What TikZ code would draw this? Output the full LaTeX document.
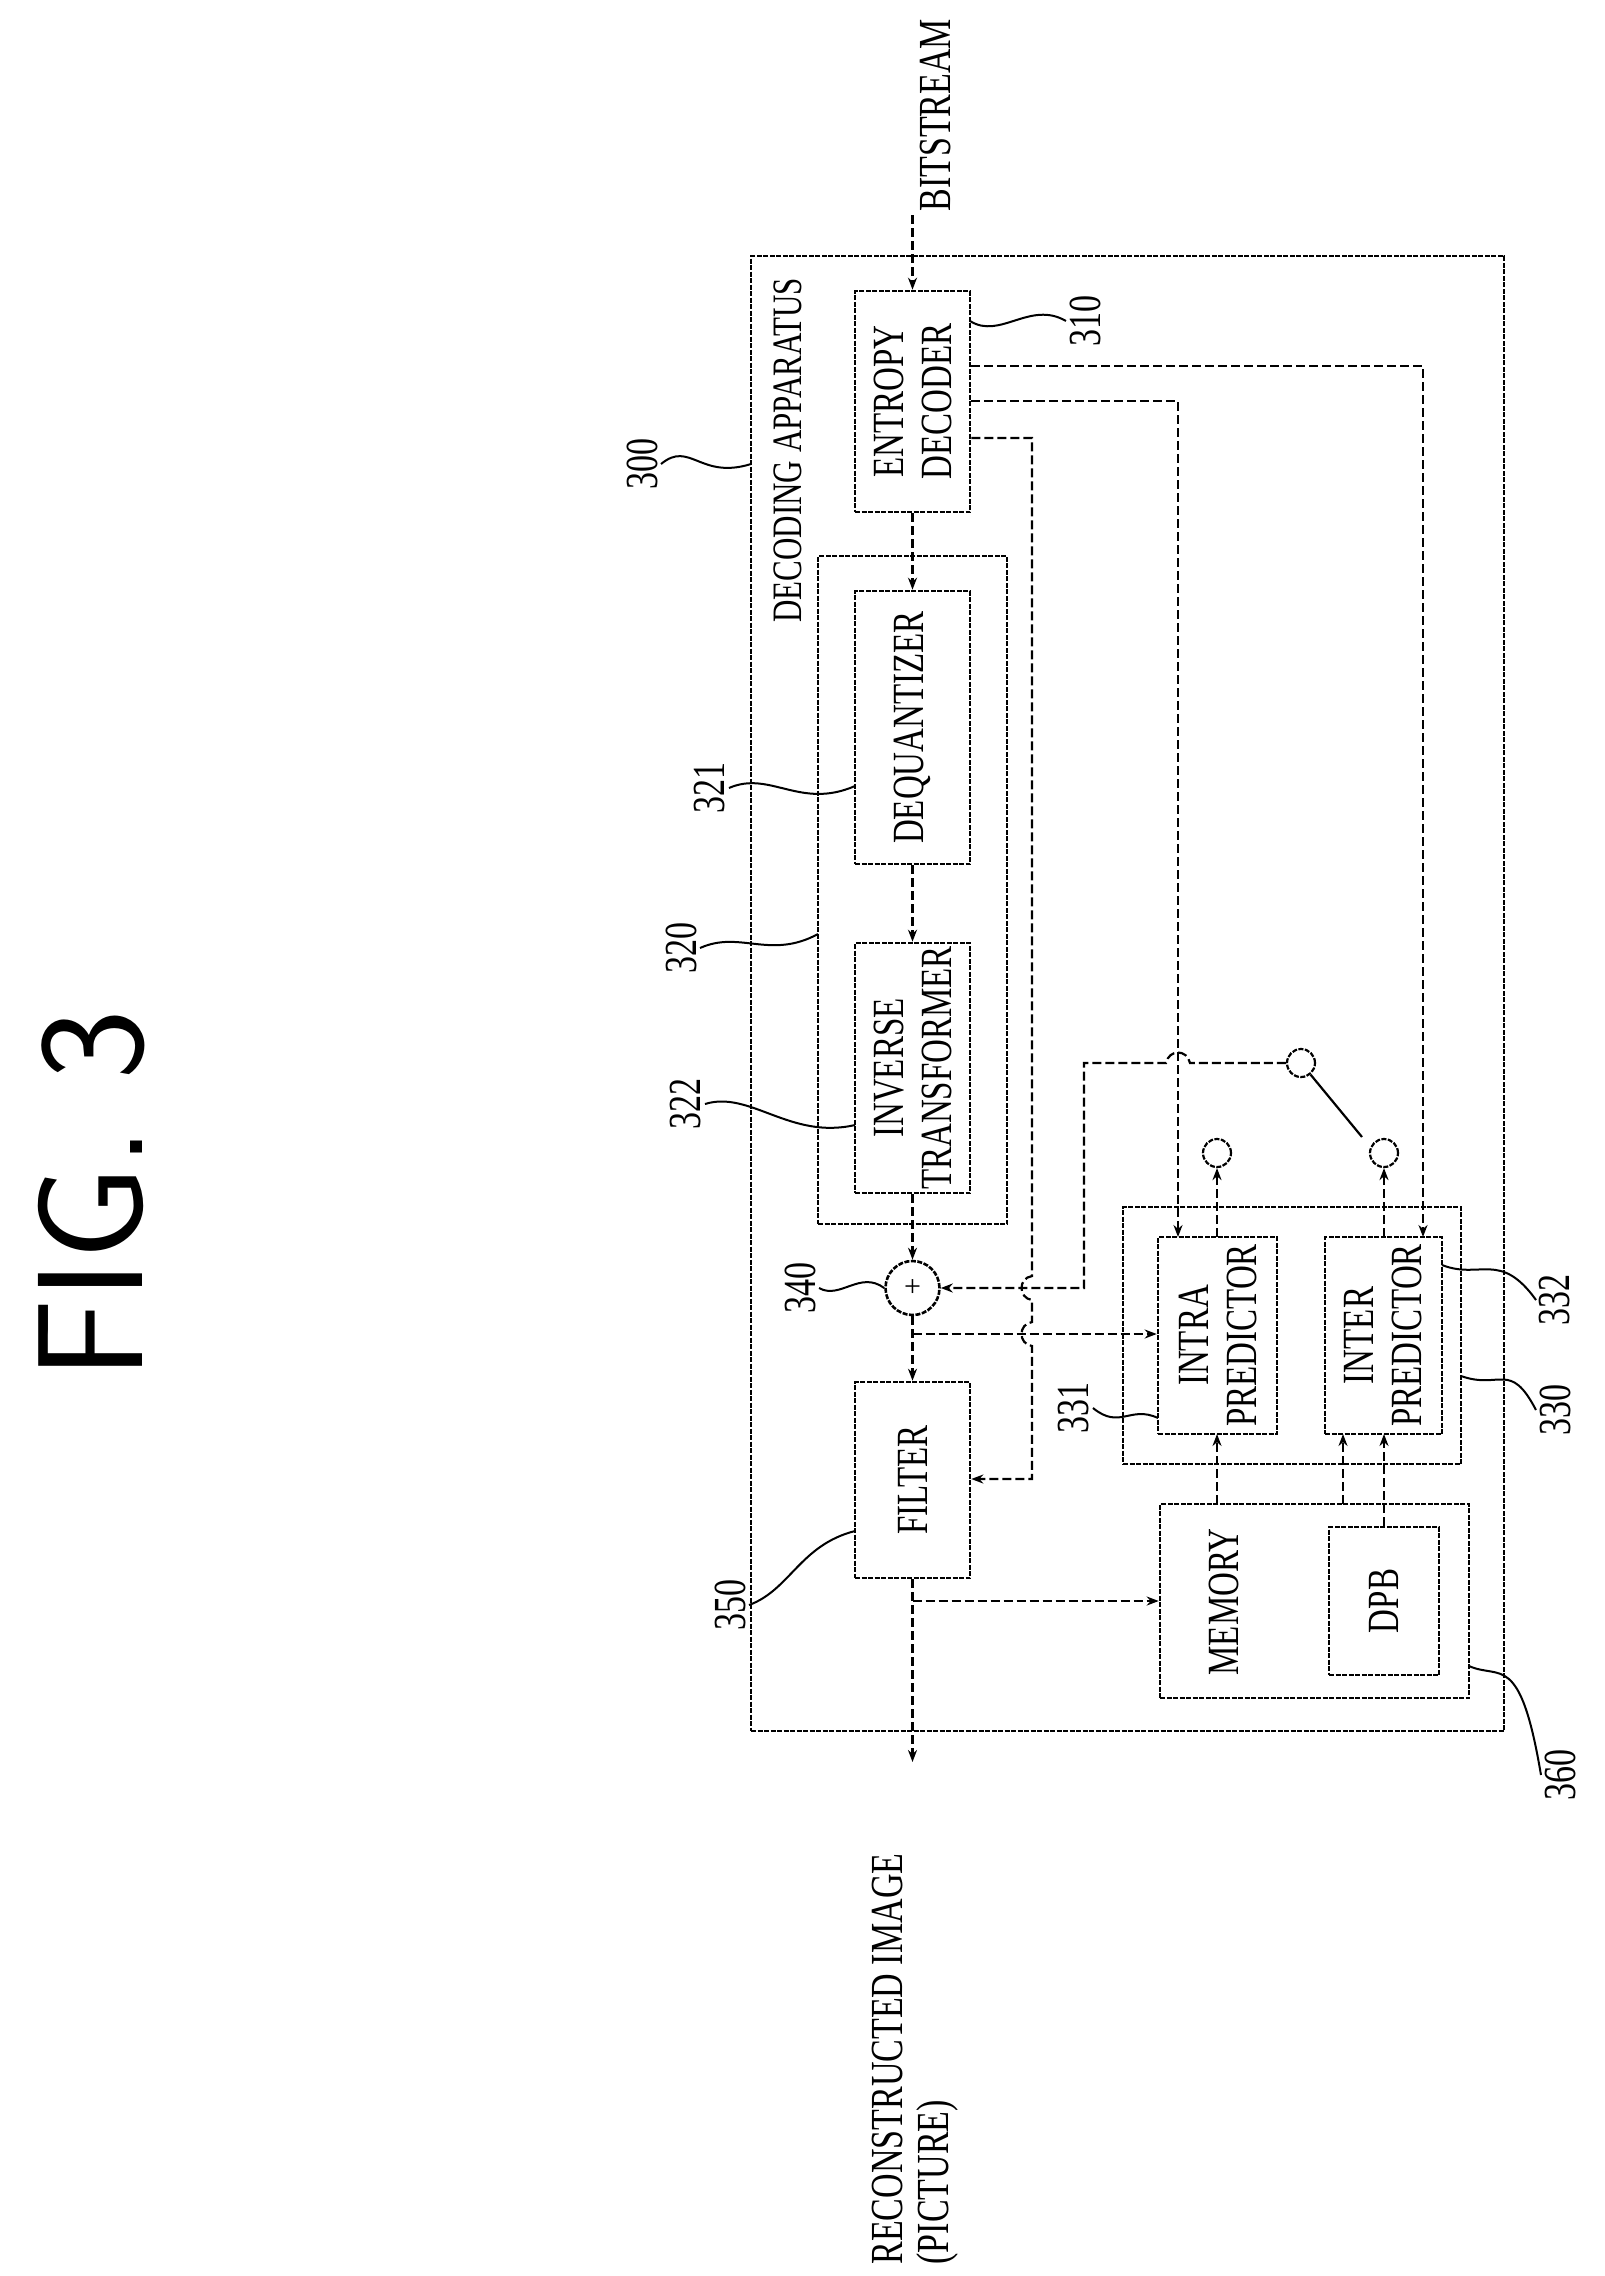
\documentclass[tikz,border=0pt]{standalone}
\usepackage{fontspec}
\setmainfont{Liberation Serif}
\usetikzlibrary{arrows.meta}
\newcommand\stt[1]{\scalebox{1}[1.35]{#1}}
\begin{document}
\begin{tikzpicture}[x=1pt,y=-1pt,
  box/.style={draw,line width=2.6pt,densely dashed,dash pattern=on 5pt off 1.5pt,inner sep=0pt},
  tx/.style={font=\fontsize{33}{48}\selectfont},
  lab/.style={font=\fontsize{34}{46}\selectfont,rotate=90},
  conn/.style={line width=2.2pt,dash pattern=on 9pt off 4pt},
  arr/.style={conn,-{Stealth[length=12pt,width=9pt]}},
  sq/.style={line width=2pt}]
\useasboundingbox (0,0) rectangle (1605,2276);
% title
\node[rotate=90,font=\fontsize{150}{150}\selectfont\sffamily] (fig) at (92,1195) {FIG. 3};
% outer box
\node[box,minimum width=753,minimum height=1475] (outer) at (1127.5,993.5) {};
\node[lab,anchor=west,font=\fontsize{31}{40}\selectfont] (dec) at (788,626) {\stt{DECODING APPARATUS}};
% blocks
\node[box,minimum width=115,minimum height=221,label={[rotate=90,tx,align=center]center:\stt{ENTROPY}\\\stt{DECODER}}] (ent) at (912.5,401.5) {};
\node[box,minimum width=189,minimum height=668] (b320) at (912.5,890) {};
\node[box,minimum width=115,minimum height=273,label={[rotate=90,tx]center:\stt{DEQUANTIZER}}] (deq) at (912.5,727.5) {};
\node[box,minimum width=115,minimum height=250,label={[rotate=90,tx,align=center]center:\stt{INVERSE}\\\stt{TRANSFORMER}}] (inv) at (912.5,1068) {};
\node[box,circle,minimum size=54] (add) at (912.5,1288) {};
\node[font=\fontsize{30}{30}\selectfont] (plus) at (912.5,1288) {+};
\node[box,minimum width=115,minimum height=196,label={[rotate=90,tx]center:\stt{FILTER}}] (fil) at (912.5,1480) {};
\node[box,minimum width=338,minimum height=257] (b330) at (1292,1335.5) {};
\node[box,minimum width=119,minimum height=197,label={[rotate=90,tx,align=center]center:\stt{INTRA}\\\stt{PREDICTOR}}] (intra) at (1217.5,1335.5) {};
\node[box,minimum width=117,minimum height=197,label={[rotate=90,tx,align=center]center:\stt{INTER}\\\stt{PREDICTOR}}] (inter) at (1383.5,1335.5) {};
\node[box,minimum width=309,minimum height=194] (mem) at (1314.5,1601) {};
\node[rotate=90,tx] (memt) at (1224,1602) {\stt{MEMORY}};
\node[box,minimum width=110,minimum height=148,label={[rotate=90,tx]center:\stt{DPB}}] (dpb) at (1384,1601) {};
% switch circles
\node[draw,circle,line width=2.2pt,dash pattern=on 5pt off 1.5pt,minimum size=28,inner sep=0pt] (sw) at (1301,1063) {};
\node[draw,circle,line width=2.2pt,dash pattern=on 5pt off 1.5pt,minimum size=28,inner sep=0pt] (ca) at (1217,1153) {};
\node[draw,circle,line width=2.2pt,dash pattern=on 5pt off 1.5pt,minimum size=28,inner sep=0pt] (cb) at (1384,1153) {};
\coordinate (lev) at (1362,1137);
\draw[line width=2.2pt] (sw) -- (lev);
% texts outside
\node[lab,anchor=west] (bits) at (936,215) {\stt{BITSTREAM}};
\coordinate (bitin) at (912.5,215);
\node[lab,anchor=west,align=left] (rec) at (915,2268) {\stt{RECONSTRUCTED IMAGE}\\\stt{(PICTURE)}};
\coordinate (recout) at (912.5,1762);
% main flow
\draw[arr] (bitin) -- (ent.north);
\draw[arr] (ent.south) -- (deq.north);
\draw[arr] (deq.south) -- (inv.north);
\draw[arr] (inv.south) -- (add.north);
\draw[arr] (add.south) -- (fil.north);
\draw[arr] (fil.south) -- (recout);
% entropy side outputs
\draw[arr] (ent.east |- 0,366) -- (1423,366) -- (1423,1237);
\draw[arr] (ent.east |- 0,401) -- (1178,401) -- (1178,1237);
\draw[arr] (ent.east |- 0,438) -- (1032,438) -- (1032,1276) .. controls (1018,1278) and (1018,1298) .. (1032,1300)
  -- (1032,1322) .. controls (1018,1324) and (1018,1344) .. (1032,1346) -- (1032,1479) -- (fil.east |- 0,1479);
% adder to intra
\draw[arr] (912.5,1334) -- (intra.west |- 0,1334);
% switch to adder
\draw[arr] (sw.west) -- (1190,1063) .. controls (1187,1049) and (1169,1049) .. (1166,1063) -- (1084,1063) -- (1084,1288) -- (add.east);
% predictor outputs
\draw[arr] (1217,1237) -- (ca.south);
\draw[arr] (1384,1237) -- (cb.south);
% filter to memory
\draw[arr] (912.5,1601) -- (mem.west |- 0,1601);
% memory to predictors
\draw[arr] (1217,1504) -- (1217,1434);
\draw[arr] (1343,1504) -- (1343,1434);
\draw[arr] (dpb.north) -- (1384,1434);
% reference labels
\node[lab] (l300) at (642,464) {\stt{300}};
\draw[sq] (l300.south) .. controls (690,440) and (700,480) .. (751,464);
\node[lab] (l310) at (1085,321) {\stt{310}};
\draw[sq] (970,321) .. controls (1000,340) and (1030,300) .. (l310.north);
\node[lab] (l321) at (710,788) {\stt{321}};
\draw[sq] (l321.south) .. controls (770,770) and (800,810) .. (855,786);
\node[lab] (l320) at (681,948) {\stt{320}};
\draw[sq] (l320.south) .. controls (740,930) and (770,960) .. (818,934);
\node[lab] (l322) at (686,1104) {\stt{322}};
\draw[sq] (l322.south) .. controls (750,1090) and (790,1140) .. (855,1125);
\node[lab] (l340) at (800,1288) {\stt{340}};
\draw[sq] (l340.south) .. controls (840,1300) and (860,1270) .. (add.west);
\node[lab] (l350) at (730,1605) {\stt{350}};
\draw[sq] (l350.south) .. controls (790,1590) and (800,1545) .. (855,1531);
\node[lab] (l331) at (1074,1408) {\stt{331}};
\draw[sq] (l331.south) .. controls (1120,1430) and (1130,1405) .. (1158,1418);
\node[lab] (l332) at (1555,1300) {\stt{332}};
\draw[sq] (1442,1265) .. controls (1480,1280) and (1500,1250) .. (l332.north);
\node[lab] (l330) at (1555,1410) {\stt{330}};
\draw[sq] (1461,1376) .. controls (1500,1390) and (1510,1360) .. (l330.north);
\node[lab] (l360) at (1560,1775) {\stt{360}};
\draw[sq] (1469,1666) .. controls (1500,1680) and (1520,1650) .. (l360.north);
\end{tikzpicture}
\end{document}
